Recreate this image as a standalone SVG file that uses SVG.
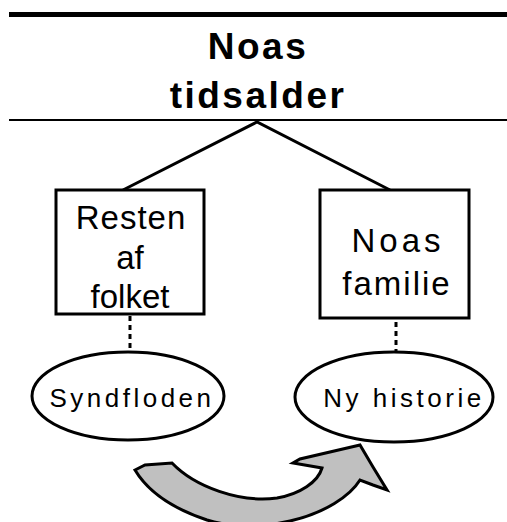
<svg xmlns="http://www.w3.org/2000/svg" width="507" height="522" viewBox="0 0 507 522">
<style>
.t{font-family:"Liberation Sans",Arial,sans-serif;fill:#000;text-anchor:middle}
.title{font-size:37px;font-weight:bold;letter-spacing:2.5px}
.box{font-size:33px}
.ell{font-size:26px;letter-spacing:3.5px}
.shape{fill:#fff;stroke:#000;stroke-width:3}
.ln{stroke:#000;stroke-width:3;fill:none}
.dot{stroke:#000;stroke-width:3;fill:none;stroke-dasharray:5 4}
</style>
<rect width="507" height="522" fill="#fff"/>
<g id="header">
<line x1="9" y1="14.5" x2="507" y2="14.5" stroke="#000" stroke-width="5"/>
<line x1="9" y1="120" x2="507" y2="120" stroke="#000" stroke-width="2"/>
<text class="t title" x="258" y="59">Noas</text>
<text class="t title" x="258" y="108">tidsalder</text>
</g>
<g id="connectors">
<polyline class="ln" points="123,190 257,122 390,190"/>
<line class="dot" x1="130" y1="316" x2="130" y2="352"/>
<line class="dot" x1="396" y1="322" x2="396" y2="352"/>
</g>
<g id="node-resten">
<rect class="shape" x="56" y="190" width="148" height="124"/>
<text class="t box" x="131" y="229" letter-spacing="1">Resten</text>
<text class="t box" x="130" y="269">af</text>
<text class="t box" x="130" y="308">folket</text>
</g>
<g id="node-noas-familie">
<rect class="shape" x="320" y="190" width="149" height="128"/>
<text class="t box" x="398" y="252" letter-spacing="4">Noas</text>
<text class="t box" x="397" y="295" letter-spacing="2">familie</text>
</g>
<g id="node-syndfloden">
<ellipse class="shape" cx="128" cy="396" rx="96" ry="44"/>
<text class="t ell" x="132" y="407">Syndfloden</text>
</g>
<g id="node-ny-historie">
<ellipse class="shape" cx="394" cy="397" rx="99" ry="45"/>
<text class="t ell" x="404" y="407">Ny historie</text>
</g>
<g id="arrow">
<path d="M135,470 L145,465 L172,463 C195,487 240,503 277,498 C300,494 318,482 322,468 L293,463 L300,459 L360,445 L373,467 L387,490 L373,485 L360,480 C350,496 325,513 290,521 C260,528 230,527 207,520 C180,511 150,495 135,470 Z" fill="#c0c0c0" stroke="#000" stroke-width="3" stroke-linejoin="miter"/>
</g>
</svg>
